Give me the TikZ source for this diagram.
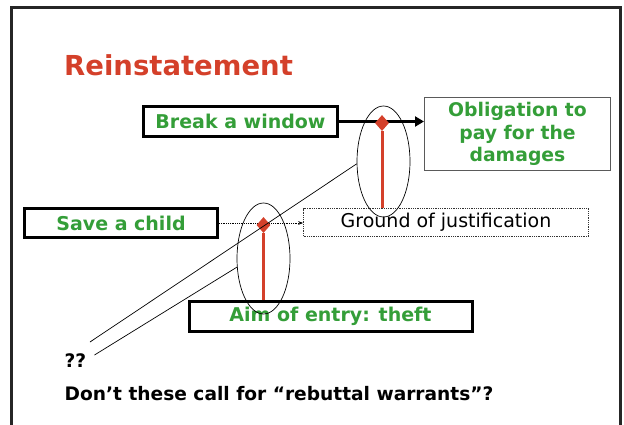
\documentclass[tikz,border=0pt]{standalone}
\usepackage{fontspec}
\setmainfont{DejaVu Sans}
\definecolor{RSRed}{RGB}{212, 64, 42}
\definecolor{RSGreen}{RGB}{52, 158, 56}
\definecolor{RSGrey}{RGB}{90, 90, 90}
\usetikzlibrary{arrows.meta, positioning, shapes.geometric, calc}

\begin{document}
\begin{tikzpicture}[
  x=1pt, y=-1pt,
  box/.style={
    rectangle, draw=black, fill=white, line width=3pt,
    inner sep=0pt, align=center, font=\fontsize{19}{21}\selectfont\bfseries,
    text=RSGreen
  },
  thinbox/.style={
    rectangle, draw=RSGrey, line width=1pt, inner sep=0pt,
    align=center, font=\fontsize{18.8}{22.5}\selectfont\bfseries, text=RSGreen
  },
  dotbox/.style={
    rectangle, draw=black!80, densely dotted, line width=0.8pt, inner sep=0pt,
    font=\fontsize{19}{21}\selectfont
  },
  hinge/.style={diamond, fill=RSRed, inner sep=0pt, minimum width=14pt, minimum height=16pt},
  scope/.style={ellipse, draw=black, line width=0.7pt, inner sep=0pt,
    minimum width=53pt, minimum height=111pt},
  arrow/.style={-{Triangle[length=9pt, width=10pt]}, line width=3pt},
  dotarrow/.style={-{Stealth[length=5pt]}, densely dotted, line width=0.8pt},
  rebut/.style={line width=3pt, color=RSRed},
  remark/.style={anchor=west, inner sep=0pt, font=\fontsize{18.6}{21}\selectfont\bfseries},
]
\useasboundingbox (0,0) rectangle (624,425);
\clip (0,0) rectangle (624,425);
\draw[line width=3pt, color=black!85] (11.5,7.5) rectangle (620.5,440);

\node[anchor=base west, inner sep=0pt, text=RSRed,
  font=\fontsize{27.5}{30}\selectfont\bfseries] (title) at (64,76) {Reinstatement};

\node[box, minimum width=194pt, minimum height=30pt] (window) at (240.5,121.5) {Break a window};
\node[thinbox, minimum width=186pt, minimum height=73pt] (damages) at (517.5,134) {Obligation to\\pay for the\\damages};
\node[box, minimum width=193pt, minimum height=29pt] (child) at (121,223) {Save a child};
\node[dotbox, minimum width=285pt, minimum height=28pt] (ground) at (446,222.5) {Ground of justification};
\node[box, minimum width=283pt, minimum height=30pt] (aim) at (330.5,316.5) {Aim of entry: theft};

\draw[arrow] (window.east) -- (window.east -| damages.west);
\draw[dotarrow] (child.east) -- (child.east -| ground.west);

\node[scope] (sc1) at (383.5,161.5) {};
\node[scope] (sc2) at (263.5,258.5) {};

\node[hinge] (h1) at (382,123) {};
\node[hinge] (h2) at (263.5,225) {};
\draw[rebut] (h1) -- (h1 |- ground.north);
\draw[rebut] (h2) -- (h2 |- aim.north);

\coordinate (q1) at (90,342);
\coordinate (q2) at (94.5,355);
\draw[line width=0.7pt] (q1) -- (sc1.185);
\draw[line width=0.7pt] (q2) -- (sc2.198);

\node[remark] (qq) at (64.5,361) {??};
\node[remark] (question) at (64.5,394) {Don’t these call for “rebuttal warrants”?};
\end{tikzpicture}
\end{document}
